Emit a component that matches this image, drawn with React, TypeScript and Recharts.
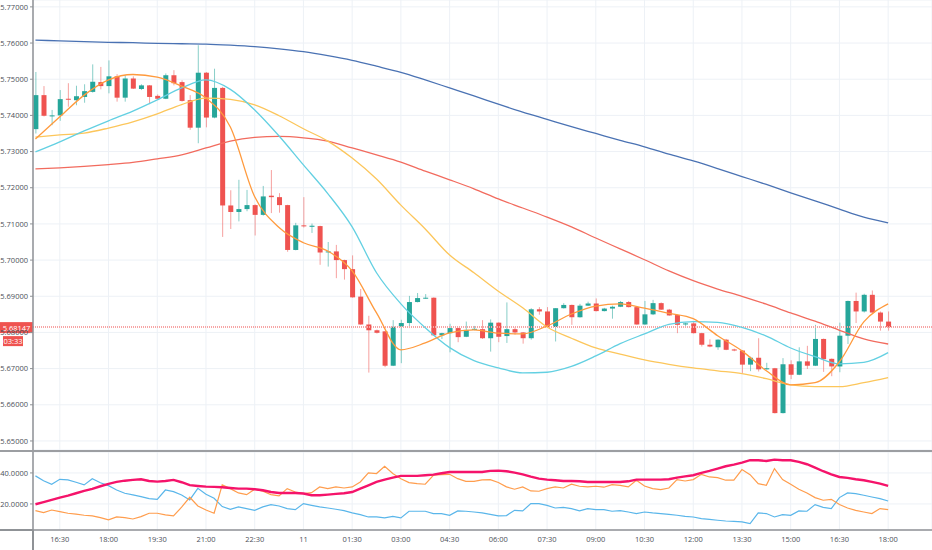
import {
  ComposedChart,
  Bar,
  Line,
  XAxis,
  YAxis,
  CartesianGrid,
  ReferenceLine,
} from "recharts";

// 15-minute candles, 15:45 -> 18:00 next day
const opens = [
  5.7362, 5.7456, 5.7399, 5.74, 5.7446, 5.7442, 5.7451, 5.7465, 5.7492, 5.7481,
  5.7508, 5.7449, 5.7502, 5.7473, 5.7483, 5.7454, 5.7446, 5.7511, 5.7492, 5.7442,
  5.7366, 5.7518, 5.7394, 5.7476, 5.7151, 5.7133, 5.7141, 5.7152, 5.7125, 5.7178,
  5.7174, 5.7152, 5.7028, 5.7096, 5.7092, 5.7094, 5.7022, 5.7024, 5.7, 5.6975,
  5.6899, 5.6822, 5.6806, 5.6803, 5.6708, 5.6816, 5.6826, 5.6884, 5.6894, 5.6896,
  5.6792, 5.6798, 5.6812, 5.6788, 5.6807, 5.6809, 5.6784, 5.6827, 5.679, 5.6809,
  5.68, 5.6784, 5.6864, 5.6858, 5.6815, 5.6867, 5.6876, 5.6842, 5.6874, 5.688,
  5.6859, 5.6866, 5.6871, 5.6884, 5.687, 5.6822, 5.685, 5.6881, 5.6863, 5.6848,
  5.6822, 5.6825, 5.6798, 5.6766, 5.6759, 5.678, 5.6753, 5.675, 5.6711, 5.673,
  5.6698, 5.6701, 5.6577, 5.6712, 5.6683, 5.672, 5.6708, 5.6782, 5.6727, 5.6706,
  5.6791, 5.6887, 5.6858, 5.6904, 5.6855, 5.683,
];
const highs = [
  5.752, 5.7481, 5.7415, 5.747, 5.7489, 5.7482, 5.7486, 5.7541, 5.7534, 5.7552,
  5.7514, 5.7511, 5.7508, 5.7486, 5.7484, 5.7458, 5.7516, 5.7525, 5.7497, 5.7456,
  5.7594, 5.752, 5.7529, 5.7479, 5.7193, 5.7222, 5.7194, 5.7154, 5.7205, 5.7249,
  5.7185, 5.7153, 5.7103, 5.7174, 5.7101, 5.7095, 5.705, 5.7042, 5.7001, 5.7013,
  5.692, 5.6846, 5.6808, 5.6804, 5.6834, 5.6835, 5.6901, 5.6909, 5.6906, 5.6897,
  5.6799, 5.6824, 5.6813, 5.683, 5.6818, 5.6834, 5.6836, 5.6828, 5.6883, 5.6814,
  5.6801, 5.6867, 5.687, 5.687, 5.6867, 5.6881, 5.6877, 5.6879, 5.6885, 5.6894,
  5.6868, 5.6874, 5.6887, 5.6887, 5.6871, 5.6887, 5.689, 5.6883, 5.6865, 5.6849,
  5.6827, 5.6829, 5.6799, 5.6781, 5.6781, 5.6782, 5.6755, 5.6751, 5.6733, 5.6784,
  5.6716, 5.6702, 5.6729, 5.6723, 5.6759, 5.6763, 5.6821, 5.6783, 5.6728, 5.6827,
  5.6888, 5.691, 5.6907, 5.6916, 5.6858, 5.6858,
];
const lows = [
  5.735, 5.7397, 5.7373, 5.7385, 5.7424, 5.7428, 5.7435, 5.7463, 5.7472, 5.7461,
  5.7438, 5.7438, 5.7473, 5.747, 5.7431, 5.7443, 5.7445, 5.7483, 5.7438, 5.736,
  5.7323, 5.7367, 5.7392, 5.7064, 5.7086, 5.7107, 5.7135, 5.7068, 5.7123, 5.713,
  5.7131, 5.7023, 5.7027, 5.709, 5.7075, 5.6987, 5.6982, 5.695, 5.6946, 5.6896,
  5.6821, 5.6689, 5.6797, 5.6704, 5.6707, 5.6715, 5.6812, 5.6883, 5.6893, 5.6791,
  5.6782, 5.6745, 5.6773, 5.6787, 5.6806, 5.6782, 5.6747, 5.6773, 5.6771, 5.6794,
  5.6769, 5.678, 5.6849, 5.6814, 5.6775, 5.6866, 5.6821, 5.6841, 5.6873, 5.6858,
  5.6858, 5.6838, 5.687, 5.6869, 5.6821, 5.6821, 5.6848, 5.6862, 5.6846, 5.6798,
  5.6818, 5.6797, 5.6761, 5.6759, 5.6752, 5.6751, 5.6748, 5.6688, 5.6693, 5.6692,
  5.6697, 5.6576, 5.6576, 5.6671, 5.6682, 5.6699, 5.6707, 5.6691, 5.6679, 5.669,
  5.6768, 5.6826, 5.6855, 5.6854, 5.6805, 5.6805,
];
const closes = [
  5.7456, 5.7399, 5.74, 5.7445, 5.7444, 5.7453, 5.7467, 5.7493, 5.7481, 5.7508,
  5.7449, 5.7502, 5.7474, 5.7483, 5.7451, 5.7446, 5.7511, 5.7489, 5.744, 5.7366,
  5.7518, 5.7394, 5.7476, 5.7151, 5.7133, 5.7141, 5.7152, 5.7125, 5.7176, 5.7174,
  5.7152, 5.7028, 5.7096, 5.7094, 5.7095, 5.7021, 5.7024, 5.7, 5.6975, 5.6897,
  5.6822, 5.6806, 5.6799, 5.6708, 5.6816, 5.6826, 5.6884, 5.6895, 5.6896, 5.6792,
  5.6798, 5.6812, 5.6787, 5.6807, 5.681, 5.6784, 5.6827, 5.6788, 5.6809, 5.68,
  5.6784, 5.6864, 5.6858, 5.6815, 5.6867, 5.6876, 5.6842, 5.6874, 5.688, 5.6859,
  5.6866, 5.6871, 5.6884, 5.687, 5.6822, 5.685, 5.6881, 5.6863, 5.6847, 5.6821,
  5.6825, 5.6798, 5.6766, 5.6761, 5.678, 5.6752, 5.675, 5.6711, 5.673, 5.6698,
  5.6701, 5.6577, 5.6712, 5.6683, 5.672, 5.6708, 5.6782, 5.6726, 5.6706, 5.6791,
  5.6887, 5.6858, 5.6904, 5.6855, 5.683, 5.68147,
];

// moving averages, read every third candle
const maIdx = [
  0, 3, 6, 9, 12, 15, 18, 21, 24, 27, 30, 33, 36, 39, 42, 45, 48, 51, 54, 57, 60,
  63, 66, 69, 72, 75, 78, 81, 84, 87, 90, 93, 96, 99, 102, 105,
];
const maFast = [
  5.7335, 5.7396, 5.7456, 5.7498, 5.7513, 5.7506, 5.7481, 5.7448, 5.7368, 5.7175,
  5.709, 5.7048, 5.7025, 5.697, 5.6854, 5.6752, 5.6771, 5.6799, 5.6807, 5.6798,
  5.6796, 5.6818, 5.6851, 5.6873, 5.6879, 5.6867, 5.6853, 5.6838, 5.6791, 5.6749,
  5.6694, 5.6655, 5.6661, 5.6719, 5.6829, 5.6879,
];
const maCyan = [
  5.7299, 5.7327, 5.7357, 5.7385, 5.7412, 5.7443, 5.7476, 5.7498, 5.7472, 5.7415,
  5.7343, 5.7263, 5.7184, 5.7092, 5.6965, 5.6879, 5.6813, 5.6758, 5.6722, 5.6702,
  5.6688, 5.669, 5.6706, 5.6735, 5.6769, 5.6796, 5.6822, 5.683, 5.6828, 5.6814,
  5.679, 5.6757, 5.6733, 5.6713, 5.6717, 5.6744,
];
const maYellow = [
  5.734, 5.7346, 5.7351, 5.7365, 5.7382, 5.7404, 5.743, 5.7448, 5.7444, 5.7429,
  5.7399, 5.7363, 5.7329, 5.7282, 5.7224, 5.7152, 5.7086, 5.7014, 5.6965, 5.6914,
  5.6868, 5.6815, 5.6784, 5.6757, 5.674, 5.6724, 5.6712, 5.6702, 5.6694, 5.6686,
  5.6672, 5.6655, 5.665, 5.665, 5.6661, 5.6675,
];
const maRed = [
  5.7252, 5.7255, 5.7259, 5.7264, 5.727, 5.728, 5.7291, 5.731, 5.7329, 5.7339,
  5.7342, 5.7338, 5.7329, 5.731, 5.7291, 5.7271, 5.7246, 5.7222, 5.7197, 5.7169,
  5.7144, 5.7119, 5.7092, 5.7061, 5.7031, 5.7001, 5.697, 5.6943, 5.692, 5.69,
  5.6878, 5.6854, 5.6831, 5.6806, 5.6782, 5.6768,
];
const maBlue = [
  5.7608, 5.7606, 5.7604, 5.7602, 5.7601, 5.7599, 5.7598, 5.7597, 5.7594, 5.759,
  5.7584, 5.7576, 5.7565, 5.7552, 5.7536, 5.7519, 5.7498, 5.7476, 5.7454, 5.7431,
  5.7409, 5.7389, 5.7369, 5.735, 5.7331, 5.7313, 5.7293, 5.7274, 5.7253, 5.7231,
  5.7209, 5.7186, 5.7164, 5.7141, 5.7119, 5.7103,
];

// lower pane (ADX / DI)
const adx = [
  19.8, 21.2, 22.6, 24.1, 25.4, 26.9, 28.4, 29.7, 31.4, 32.9, 34.2, 35.0, 35.5,
  35.9, 34.8, 34.4, 34.8, 35.5, 34.0, 32.1, 31.6, 31.2, 31.0, 30.8, 30.3, 29.9,
  29.9, 29.5, 28.8, 27.7, 27.1, 27.1, 27.1, 26.7, 25.6, 25.6, 26.0, 26.5, 26.9,
  27.7, 29.9, 32.0, 34.2, 35.7, 37.0, 38.1, 38.1, 38.1, 38.5, 38.9, 39.8, 40.6,
  40.6, 40.6, 40.6, 40.6, 41.3, 41.5, 41.1, 40.2, 39.1, 37.6, 36.3, 35.7, 35.3,
  34.8, 34.8, 34.6, 34.2, 34.2, 34.2, 34.2, 34.2, 34.6, 35.7, 35.7, 35.7, 35.7,
  35.9, 37.0, 37.8, 38.5, 40.0, 41.3, 42.8, 44.3, 45.4, 46.7, 48.2, 48.2, 47.7,
  48.6, 48.2, 48.2, 47.1, 45.6, 43.4, 41.1, 39.1, 37.4, 36.8, 35.9, 35.3, 34.2,
  33.1, 31.6,
];
const diMinus = [
  15.7, 14.4, 16.1, 15.0, 14.0, 13.4, 12.7, 12.3, 11.2, 9.7, 11.6, 11.2, 10.3,
  11.8, 14.0, 14.0, 12.9, 12.3, 17.9, 24.3, 18.7, 16.1, 14.0, 32.3, 29.9, 27.1,
  26.0, 29.5, 28.2, 26.0, 25.2, 29.9, 27.7, 26.7, 27.3, 31.0, 29.9, 31.0, 30.3,
  31.0, 34.2, 40.0, 39.6, 44.3, 39.6, 36.3, 33.8, 33.1, 32.7, 38.5, 38.9, 39.1,
  36.3, 34.6, 34.6, 35.5, 35.7, 33.8, 31.0, 29.5, 31.0, 28.4, 28.2, 29.9, 31.0,
  30.3, 32.7, 31.4, 31.0, 31.4, 30.8, 32.5, 32.0, 31.0, 35.3, 31.6, 29.9, 29.2,
  30.3, 35.7, 34.8, 35.7, 39.1, 37.4, 37.0, 35.3, 35.3, 42.2, 38.9, 33.1, 32.0,
  42.8, 35.7, 32.7, 29.5, 27.1, 24.1, 22.4, 23.0, 19.6, 17.4, 15.9, 14.8, 13.8,
  17.0, 16.3,
];
const diPlus = [
  38.1, 35.0, 32.7, 35.9, 35.5, 34.0, 32.3, 36.3, 33.7, 31.8, 29.0, 26.9, 25.8,
  24.7, 23.4, 23.0, 29.0, 27.9, 25.8, 22.6, 30.1, 26.3, 23.7, 18.3, 16.5, 18.1,
  17.0, 15.9, 18.1, 19.6, 18.7, 17.0, 16.3, 20.2, 19.1, 18.1, 17.4, 16.6, 15.7,
  14.2, 13.1, 11.6, 11.6, 11.0, 12.0, 11.0, 15.3, 15.3, 15.3, 13.8, 13.8, 12.7,
  15.5, 15.3, 14.8, 14.2, 13.3, 12.3, 12.5, 15.9, 15.5, 20.2, 20.2, 19.1, 17.4,
  17.8, 17.0, 15.5, 17.0, 16.3, 16.3, 15.3, 15.7, 14.8, 13.8, 14.8, 14.2, 13.8,
  13.3, 12.7, 12.0, 11.6, 10.5, 10.1, 9.5, 9.0, 8.8, 8.4, 7.3, 14.2, 13.8, 11.6,
  13.1, 12.7, 15.5, 15.3, 19.6, 17.8, 17.0, 24.1, 27.1, 26.7, 25.6, 24.5, 23.4,
  21.9,
];

const timeTickIdx = [3, 9, 15, 21, 27, 33, 39, 45, 51, 57, 63, 69, 75, 81, 87, 93, 99, 105];
const timeTickLabels = [
  "16:30", "18:00", "19:30", "21:00", "22:30", "11", "01:30", "03:00", "04:30",
  "06:00", "07:30", "09:00", "10:30", "12:00", "13:30", "15:00", "16:30", "18:00",
];
const priceTicks = [5.65, 5.66, 5.67, 5.68, 5.69, 5.7, 5.71, 5.72, 5.73, 5.74, 5.75, 5.76, 5.77];
const adxTicks = [20, 40];
const countdown = "03:33";

const UP = "#26a69a";
const DOWN = "#ef5350";
const GRID = "#edf1f6";
const AXIS = "#8f9296";
const FONT = "'Open Sans', sans-serif";
const tickStyle = { fontSize: 7.5, fill: "#4c5058", fontFamily: FONT };
const X_DOMAIN: [number, number] = [-0.3, 110.4];

const maAt = (arr: number[], i: number) => {
  const k = maIdx.indexOf(i);
  return k >= 0 ? arr[k] : null;
};

const priceRows = opens.map((o, i) => ({
  i,
  o,
  h: highs[i],
  l: lows[i],
  c: closes[i],
  range: [lows[i], highs[i]],
  fast: maAt(maFast, i),
  cyan: maAt(maCyan, i),
  yellow: maAt(maYellow, i),
  red: maAt(maRed, i),
  blue: maAt(maBlue, i),
}));

const adxRows = adx.map((v, i) => ({
  i,
  adx: v,
  minus: diMinus[i],
  plus: diPlus[i],
}));

const lastClose = closes[closes.length - 1];

function Candle(props: any) {
  const { x, y, width, height, payload } = props;
  if (!payload) return null;
  const { o, c, h, l } = payload;
  const color = c >= o ? UP : DOWN;
  const top = Math.min(y, y + height);
  const span = Math.abs(height);
  const ratio = span / (h - l || 1e-9);
  const yOf = (v: number) => top + (h - v) * ratio;
  const bodyTop = yOf(Math.max(o, c));
  const bodyBot = yOf(Math.min(o, c));
  const cx = x + width / 2;
  return (
    <g>
      <line x1={cx} x2={cx} y1={top} y2={top + span} stroke={color} strokeOpacity={0.55} strokeWidth={1} />
      <rect x={x} y={bodyTop} width={width} height={Math.max(1, bodyBot - bodyTop)} fill={color} />
    </g>
  );
}

// last-price tag and bar countdown on the price scale
function PriceTag(props: any) {
  const y = props.viewBox?.y ?? 0;
  return (
    <g fontFamily={FONT} fontSize={7.5}>
      <rect x={0} y={y - 5} width={33} height={11} fill={DOWN} />
      <text x={16.5} y={y + 0.5} textAnchor="middle" dominantBaseline="central" fill="#fff">
        {lastClose.toFixed(5)}
      </text>
      <rect x={3} y={y + 9} width={20} height={10} fill={DOWN} />
      <text x={13} y={y + 14} textAnchor="middle" dominantBaseline="central" fill="#fff">
        {countdown}
      </text>
    </g>
  );
}

const fmtTime = (v: number) => {
  const k = timeTickIdx.indexOf(v);
  return k >= 0 ? timeTickLabels[k] : "";
};

export default function App() {
  return (
    <div style={{ position: "relative", width: 932, height: 550, background: "#fff", fontFamily: FONT }}>
      <style>{"body{margin:0}"}</style>
      <ComposedChart width={932} height={450} data={priceRows} margin={{ top: 0, right: 0, bottom: 0, left: 0 }}>
        <CartesianGrid stroke={GRID} />
        <XAxis type="number" dataKey="i" domain={X_DOMAIN} ticks={timeTickIdx} hide />
        <YAxis
          domain={[5.6475, 5.7719]}
          ticks={priceTicks}
          width={33}
          tick={tickStyle}
          tickSize={3}
          tickMargin={2}
          tickFormatter={(v: number) => v.toFixed(5)}
          axisLine={{ stroke: AXIS, strokeWidth: 1.5 }}
          tickLine={{ stroke: AXIS }}
          allowDataOverflow
        />
        <ReferenceLine
          y={lastClose}
          stroke="#f7a5a5"
          strokeWidth={2}
          strokeDasharray="1 1"
          label={<PriceTag />}
        />
        <Line dataKey="blue" type="monotone" stroke="#4a72b3" strokeWidth={1.3} dot={false} connectNulls isAnimationActive={false} />
        <Line dataKey="red" type="monotone" stroke="#f26b5e" strokeWidth={1.3} dot={false} connectNulls isAnimationActive={false} />
        <Line dataKey="yellow" type="monotone" stroke="#fcc65b" strokeWidth={1.3} dot={false} connectNulls isAnimationActive={false} />
        <Line dataKey="cyan" type="monotone" stroke="#63d0e2" strokeWidth={1.3} dot={false} connectNulls isAnimationActive={false} />
        <Bar dataKey="range" barSize={5} shape={<Candle />} isAnimationActive={false} />
        <Line dataKey="fast" type="monotone" stroke="#ff9a3d" strokeWidth={1.3} dot={false} connectNulls isAnimationActive={false} />
      </ComposedChart>
      <div style={{ height: 2, background: "#9c9ea2" }} />
      <ComposedChart width={932} height={98} data={adxRows} margin={{ top: 0, right: 0, bottom: 0, left: 0 }}>
        <CartesianGrid stroke={GRID} />
        <XAxis
          type="number"
          dataKey="i"
          domain={X_DOMAIN}
          ticks={timeTickIdx}
          tickFormatter={fmtTime}
          height={20}
          tick={tickStyle}
          tickLine={false}
          tickSize={4}
          tickMargin={3}
          axisLine={{ stroke: AXIS, strokeWidth: 1.5 }}
        />
        <YAxis
          domain={[3.2, 53.5]}
          ticks={adxTicks}
          width={33}
          tick={tickStyle}
          tickSize={3}
          tickMargin={2}
          tickFormatter={(v: number) => v.toFixed(4)}
          axisLine={{ stroke: AXIS, strokeWidth: 1.5 }}
          tickLine={{ stroke: AXIS }}
          allowDataOverflow
        />
        <Line dataKey="plus" type="linear" stroke="#5ab6ea" strokeWidth={1.2} dot={false} isAnimationActive={false} />
        <Line dataKey="minus" type="linear" stroke="#ff9d4d" strokeWidth={1.2} dot={false} isAnimationActive={false} />
        <Line dataKey="adx" type="linear" stroke="#f5136a" strokeWidth={2.4} dot={false} isAnimationActive={false} />
      </ComposedChart>
      <div style={{ position: "absolute", left: 0, top: 529, width: 33, height: 1.5, background: AXIS }} />
      <div style={{ position: "absolute", left: 32.3, top: 530, width: 1.5, height: 20, background: AXIS }} />
    </div>
  );
}
